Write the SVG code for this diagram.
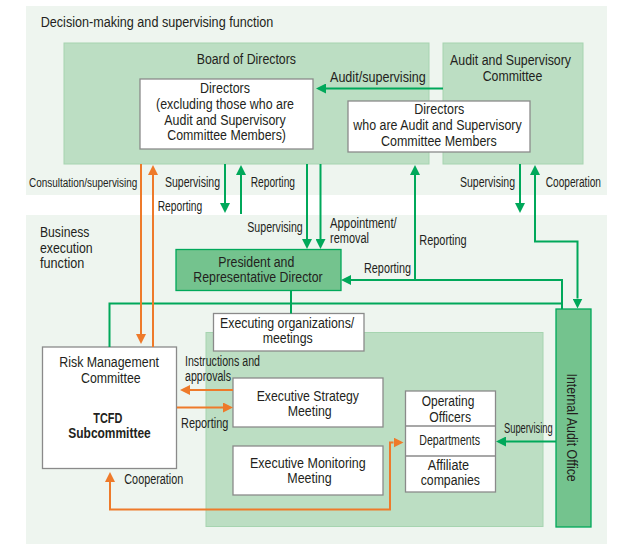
<svg xmlns="http://www.w3.org/2000/svg" width="621" height="544" viewBox="0 0 621 544">
<defs>
<style>
.panel{fill:#eef5ef}
.mid{fill:#bcdec3;stroke:#a6d4b0;stroke-width:1}
.wb{fill:#fff;stroke:#8a8a8a;stroke-width:1.3}
.db{fill:#74c38e;stroke:#00a85a;stroke-width:1.3}
.t{font-family:"Liberation Sans",Arial,sans-serif;font-size:14px;fill:#231f20}
.b{font-weight:bold}
.g{fill:none;stroke:#00a85a;stroke-width:2}
.o{fill:none;stroke:#ee7a2a;stroke-width:2}
</style>
<marker id="ag" viewBox="0 0 10 10" refX="0" refY="5" markerWidth="10" markerHeight="10" markerUnits="userSpaceOnUse" orient="auto-start-reverse"><path d="M0,0L10,5L0,10z" fill="#00a85a"/></marker>
<marker id="ao" viewBox="0 0 10 10" refX="0" refY="5" markerWidth="10" markerHeight="10" markerUnits="userSpaceOnUse" orient="auto-start-reverse"><path d="M0,0L10,5L0,10z" fill="#ee7a2a"/></marker>
</defs>

<g id="panels">
<rect class="panel" x="26" y="6" width="581" height="189"/>
<rect class="panel" x="26" y="215" width="581" height="329"/>
<text class="t" x="40.7" y="27.3" textLength="232.6" lengthAdjust="spacingAndGlyphs">Decision-making and supervising function</text>
<text class="t" x="40" y="236.7" textLength="49.3" lengthAdjust="spacingAndGlyphs">Business</text>
<text class="t" x="40" y="252.7" textLength="52.7" lengthAdjust="spacingAndGlyphs">execution</text>
<text class="t" x="40" y="268.3" textLength="44.3" lengthAdjust="spacingAndGlyphs">function</text>
</g>

<g id="board">
<rect class="mid" x="64" y="43" width="365" height="121"/>
<text class="t" x="196.7" y="64" textLength="99.3" lengthAdjust="spacingAndGlyphs">Board of Directors</text>
</g>

<g id="audit-committee">
<rect class="mid" x="443" y="43" width="140" height="121"/>
<text class="t" x="450" y="65.3" textLength="121" lengthAdjust="spacingAndGlyphs">Audit and Supervisory</text>
<text class="t" x="482.7" y="81" textLength="59.6" lengthAdjust="spacingAndGlyphs">Committee</text>
</g>

<g id="directors">
<rect class="wb" x="140" y="79" width="173" height="70"/>
<text class="t" x="200" y="93.3" textLength="50" lengthAdjust="spacingAndGlyphs">Directors</text>
<text class="t" x="156" y="109" textLength="138" lengthAdjust="spacingAndGlyphs">(excluding those who are</text>
<text class="t" x="164.3" y="124.5" textLength="121.4" lengthAdjust="spacingAndGlyphs">Audit and Supervisory</text>
<text class="t" x="167.3" y="140" textLength="118.7" lengthAdjust="spacingAndGlyphs">Committee Members)</text>
</g>

<g id="audit-directors">
<rect class="wb" x="348" y="101" width="182" height="51"/>
<text class="t" x="414.3" y="114.3" textLength="50" lengthAdjust="spacingAndGlyphs">Directors</text>
<text class="t" x="353.3" y="130" textLength="168.4" lengthAdjust="spacingAndGlyphs">who are Audit and Supervisory</text>
<text class="t" x="381" y="146" textLength="115.7" lengthAdjust="spacingAndGlyphs">Committee Members</text>
</g>

<g id="president">
<rect class="db" x="176" y="249.5" width="165" height="41"/>
<text class="t" x="218.3" y="266.7" textLength="76" lengthAdjust="spacingAndGlyphs">President and</text>
<text class="t" x="193.3" y="281.7" textLength="129.4" lengthAdjust="spacingAndGlyphs">Representative Director</text>
</g>

<g id="executing">
<rect class="mid" x="206" y="332.5" width="337" height="194"/>
<rect class="wb" x="213.5" y="313.5" width="150.5" height="37.5"/>
<text class="t" x="220" y="328.3" textLength="134.3" lengthAdjust="spacingAndGlyphs">Executing organizations/</text>
<text class="t" x="262.7" y="343.3" textLength="50" lengthAdjust="spacingAndGlyphs">meetings</text>
</g>

<g id="risk-management">
<rect class="wb" x="42.5" y="347" width="134" height="121.5"/>
<text class="t" x="59.3" y="367.3" textLength="99.7" lengthAdjust="spacingAndGlyphs">Risk Management</text>
<text class="t" x="81" y="383.3" textLength="59.7" lengthAdjust="spacingAndGlyphs">Committee</text>
<text class="t b" x="93.3" y="422.7" textLength="29" lengthAdjust="spacingAndGlyphs">TCFD</text>
<text class="t b" x="68.3" y="438.3" textLength="82.4" lengthAdjust="spacingAndGlyphs">Subcommittee</text>
</g>

<g id="strategy-meeting">
<rect class="wb" x="233" y="378" width="150" height="49"/>
<text class="t" x="256.7" y="400.7" textLength="102.3" lengthAdjust="spacingAndGlyphs">Executive Strategy</text>
<text class="t" x="287.7" y="416" textLength="44" lengthAdjust="spacingAndGlyphs">Meeting</text>
</g>

<g id="monitoring-meeting">
<rect class="wb" x="233" y="446" width="150" height="49"/>
<text class="t" x="250" y="468.3" textLength="115.7" lengthAdjust="spacingAndGlyphs">Executive Monitoring</text>
<text class="t" x="287.3" y="483.3" textLength="44.3" lengthAdjust="spacingAndGlyphs">Meeting</text>
</g>

<g id="operating">
<rect class="wb" x="405.5" y="391" width="90" height="101"/>
<line x1="405.5" y1="426" x2="495.5" y2="426" stroke="#8a8a8a" stroke-width="1.3"/>
<line x1="405.5" y1="456" x2="495.5" y2="456" stroke="#8a8a8a" stroke-width="1.3"/>
<text class="t" x="421.7" y="405.7" textLength="52.6" lengthAdjust="spacingAndGlyphs">Operating</text>
<text class="t" x="429.3" y="421.7" textLength="41.7" lengthAdjust="spacingAndGlyphs">Officers</text>
<text class="t" x="419.3" y="445.3" textLength="60.7" lengthAdjust="spacingAndGlyphs">Departments</text>
<text class="t" x="427.7" y="470" textLength="41.3" lengthAdjust="spacingAndGlyphs">Affiliate</text>
<text class="t" x="420.7" y="485.3" textLength="59.3" lengthAdjust="spacingAndGlyphs">companies</text>
</g>

<g id="internal-audit">
<rect class="db" x="556" y="309" width="35" height="218"/>
<text class="t" transform="translate(566.7,427.5) rotate(90)" x="-54" y="0" textLength="108.3" lengthAdjust="spacingAndGlyphs">Internal Audit Office</text>
</g>

<g id="connectors">
<path class="g" d="M443,88.5H326" marker-end="url(#ag)"/>
<path class="g" d="M225,164V203" marker-end="url(#ag)"/>
<path class="g" d="M241,214V175" marker-end="url(#ag)"/>
<path class="g" d="M307,164V239" marker-end="url(#ag)"/>
<path class="g" d="M320.5,164V239" marker-end="url(#ag)"/>
<path class="g" d="M415,280V175" marker-end="url(#ag)"/>
<path class="g" d="M562,309V280H351" marker-end="url(#ag)"/>
<path class="g" d="M109.5,347V303.5H562"/>
<path class="g" d="M291,291V313.5"/>
<path class="g" d="M520,164V203" marker-end="url(#ag)"/>
<path class="g" d="M535,175V241.5H577.5V298.5" marker-start="url(#ag)" marker-end="url(#ag)"/>
<path class="g" d="M556,441.5H506" marker-end="url(#ag)"/>
<path class="o" d="M141,164V334" marker-end="url(#ao)"/>
<path class="o" d="M153,347V175" marker-end="url(#ao)"/>
<path class="o" d="M233,390H190" marker-end="url(#ao)"/>
<path class="o" d="M177,407.5H223" marker-end="url(#ao)"/>
<path class="o" d="M110,482V509.5H390V442.5H393.5" marker-start="url(#ao)" marker-end="url(#ao)"/>
</g>

<g id="connector-labels">
<text class="t" x="330" y="81.7" textLength="95.7" lengthAdjust="spacingAndGlyphs">Audit/supervising</text>
<text class="t" x="29" y="187" style="font-size:12.3px" textLength="108.3" lengthAdjust="spacingAndGlyphs">Consultation/supervising</text>
<text class="t" x="165" y="187" textLength="55" lengthAdjust="spacingAndGlyphs">Supervising</text>
<text class="t" x="250.7" y="187" textLength="44.3" lengthAdjust="spacingAndGlyphs">Reporting</text>
<text class="t" x="460" y="187" textLength="55" lengthAdjust="spacingAndGlyphs">Supervising</text>
<text class="t" x="545.7" y="187" textLength="55.3" lengthAdjust="spacingAndGlyphs">Cooperation</text>
<text class="t" x="157.7" y="210.5" textLength="44.6" lengthAdjust="spacingAndGlyphs">Reporting</text>
<text class="t" x="247.3" y="231.7" textLength="55.4" lengthAdjust="spacingAndGlyphs">Supervising</text>
<text class="t" x="330" y="228.3" textLength="66.7" lengthAdjust="spacingAndGlyphs">Appointment/</text>
<text class="t" x="330" y="243.3" textLength="39" lengthAdjust="spacingAndGlyphs">removal</text>
<text class="t" x="419.3" y="245" textLength="47.4" lengthAdjust="spacingAndGlyphs">Reporting</text>
<text class="t" x="364" y="273.3" textLength="47" lengthAdjust="spacingAndGlyphs">Reporting</text>
<text class="t" x="185" y="365.7" textLength="75" lengthAdjust="spacingAndGlyphs">Instructions and</text>
<text class="t" x="185" y="381" textLength="46" lengthAdjust="spacingAndGlyphs">approvals</text>
<text class="t" x="181" y="428.3" textLength="47.3" lengthAdjust="spacingAndGlyphs">Reporting</text>
<text class="t" x="124.3" y="484" textLength="59" lengthAdjust="spacingAndGlyphs">Cooperation</text>
<text class="t" x="504" y="432.7" textLength="48.7" lengthAdjust="spacingAndGlyphs">Supervising</text>
</g>
</svg>
